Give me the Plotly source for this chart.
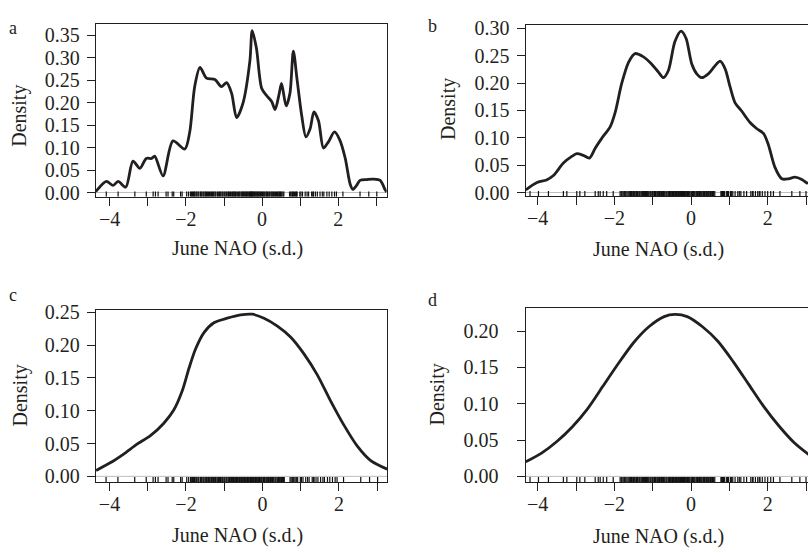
import plotly.graph_objects as go

# ---------------- data ----------------
# Panel a: narrow-bandwidth kernel density
a_x = [-4.37, -4.35, -4.09, -3.91, -3.78, -3.58, -3.39, -3.21, -3.04, -2.90, -2.82, -2.60, -2.34, -2.03,
       -1.90, -1.77, -1.63, -1.46, -1.24, -1.07, -0.93, -0.80, -0.67, -0.50, -0.32, -0.26, -0.15, -0.01,
       0.12, 0.25, 0.34, 0.45, 0.51, 0.63, 0.73, 0.82, 0.92, 1.04, 1.15, 1.26, 1.36, 1.48, 1.61, 1.74,
       1.90, 2.04, 2.18, 2.31, 2.38, 2.48, 2.57, 2.75, 2.92, 3.10, 3.23, 3.27]
a_y = [0.002, 0.004, 0.025, 0.016, 0.025, 0.012, 0.070, 0.054, 0.076, 0.076, 0.081, 0.037, 0.115, 0.097,
       0.135, 0.236, 0.279, 0.255, 0.252, 0.236, 0.245, 0.221, 0.167, 0.200, 0.294, 0.361, 0.322, 0.232,
       0.216, 0.203, 0.185, 0.221, 0.243, 0.193, 0.221, 0.315, 0.250, 0.171, 0.124, 0.142, 0.180, 0.160,
       0.099, 0.113, 0.135, 0.117, 0.077, 0.019, 0.007, 0.016, 0.027, 0.029, 0.030, 0.027, 0.006, 0.001]

# Panel b
b_x = [-4.31, -4.03, -3.77, -3.59, -3.33, -3.11, -2.98, -2.81, -2.65, -2.50, -2.33, -2.11, -1.98, -1.81,
       -1.63, -1.46, -1.24, -1.03, -0.85, -0.72, -0.59, -0.42, -0.26, -0.13, 0.02, 0.15, 0.28, 0.45,
       0.63, 0.76, 0.89, 1.02, 1.15, 1.32, 1.54, 1.71, 1.89, 2.02, 2.19, 2.37, 2.54, 2.71, 2.89, 3.05]
b_y = [0.005, 0.018, 0.023, 0.031, 0.054, 0.066, 0.071, 0.068, 0.063, 0.081, 0.099, 0.120, 0.146, 0.199,
       0.238, 0.254, 0.248, 0.235, 0.220, 0.210, 0.223, 0.276, 0.295, 0.282, 0.235, 0.217, 0.210, 0.217,
       0.232, 0.240, 0.226, 0.193, 0.164, 0.149, 0.128, 0.117, 0.108, 0.087, 0.046, 0.025, 0.025, 0.028,
       0.024, 0.016]

# Panel c
c_x = [-4.35, -3.97, -3.63, -3.28, -2.93, -2.58, -2.32, -2.10, -1.92, -1.75, -1.53, -1.27, -0.92, -0.57,
       -0.27, 0.04, 0.39, 0.74, 1.08, 1.43, 1.78, 2.13, 2.48, 2.83, 3.26]
c_y = [0.009, 0.021, 0.034, 0.049, 0.062, 0.081, 0.101, 0.130, 0.165, 0.194, 0.219, 0.234, 0.241, 0.246,
       0.247, 0.241, 0.229, 0.212, 0.187, 0.155, 0.115, 0.078, 0.046, 0.024, 0.011]

# Panel d
d_x = [-4.31, -3.90, -3.50, -3.10, -2.70, -2.30, -1.90, -1.50, -1.10, -0.70, -0.42, -0.10, 0.30, 0.70,
       1.10, 1.50, 1.90, 2.30, 2.70, 3.10]
d_y = [0.020, 0.032, 0.048, 0.068, 0.093, 0.124, 0.155, 0.184, 0.206, 0.220, 0.223, 0.220, 0.206, 0.186,
       0.158, 0.127, 0.096, 0.069, 0.046, 0.029]

# Rug (observations) for panels a and c
rug_ac = [-4.09, -3.78, -3.34, -3.04, -2.86, -2.80, -2.73, -2.52, -2.47, -2.36, -2.32, -2.14, -2.10, -1.98,
          -1.93, -1.88, -1.85, -1.83, -1.80, -1.78, -1.76, -1.73, -1.71, -1.68, -1.66, -1.62, -1.60, -1.58,
          -1.55, -1.53, -1.50, -1.48, -1.46, -1.43, -1.41, -1.38, -1.35, -1.33, -1.30, -1.28, -1.26, -1.23,
          -1.21, -1.17, -1.15, -1.12, -1.10, -1.08, -1.05, -1.03, -1.00, -0.98, -0.95, -0.93, -0.90, -0.88,
          -0.86, -0.83, -0.81, -0.78, -0.76, -0.74, -0.72, -0.70, -0.68, -0.65, -0.62, -0.60, -0.58, -0.55,
          -0.53, -0.51, -0.49, -0.47, -0.45, -0.43, -0.41, -0.39, -0.37, -0.35, -0.33, -0.31, -0.30, -0.28,
          -0.27, -0.25, -0.24, -0.22, -0.20, -0.18, -0.16, -0.14, -0.12, -0.10, -0.08, -0.06, -0.04, -0.02,
          0.01, 0.03, 0.05, 0.07, 0.10, 0.12, 0.14, 0.16, 0.19, 0.21, 0.24, 0.26, 0.28, 0.30, 0.33, 0.35,
          0.38, 0.40, 0.42, 0.44, 0.46, 0.48, 0.50, 0.52, 0.55, 0.57, 0.72, 0.75, 0.78, 0.80, 0.82, 0.85,
          0.88, 0.90, 0.92, 0.99, 1.02, 1.06, 1.13, 1.18, 1.22, 1.30, 1.33, 1.35, 1.40, 1.45, 1.52, 1.58,
          1.62, 1.70, 1.76, 1.83, 1.90, 1.95, 2.12, 2.57, 2.80, 3.01]
# Rug (observations) for panels b and d
rug_bd = [-4.20, -3.98, -3.72, -3.33, -3.24, -2.98, -2.90, -2.77, -2.50, -2.42, -2.37, -2.29, -2.20, -2.03,
          -1.85, -1.82, -1.80, -1.77, -1.74, -1.72, -1.70, -1.67, -1.64, -1.61, -1.58, -1.55, -1.52, -1.50,
          -1.47, -1.44, -1.42, -1.40, -1.38, -1.35, -1.33, -1.30, -1.28, -1.26, -1.24, -1.21, -1.19, -1.16,
          -1.14, -1.12, -1.10, -1.07, -1.05, -1.02, -1.00, -0.97, -0.95, -0.93, -0.91, -0.88, -0.86, -0.84,
          -0.82, -0.79, -0.77, -0.74, -0.72, -0.70, -0.68, -0.65, -0.63, -0.60, -0.58, -0.56, -0.54, -0.52,
          -0.50, -0.48, -0.46, -0.44, -0.42, -0.40, -0.38, -0.36, -0.34, -0.32, -0.31, -0.29, -0.28, -0.26,
          -0.25, -0.23, -0.22, -0.20, -0.19, -0.17, -0.15, -0.13, -0.11, -0.09, -0.07, -0.05, -0.03, 0.00,
          0.02, 0.04, 0.06, 0.08, 0.10, 0.13, 0.15, 0.17, 0.19, 0.22, 0.24, 0.26, 0.28, 0.31, 0.33, 0.35,
          0.37, 0.40, 0.42, 0.44, 0.46, 0.49, 0.51, 0.54, 0.56, 0.59, 0.62, 0.78, 0.80, 0.82, 0.85, 0.87,
          0.92, 0.95, 0.98, 1.03, 1.06, 1.09, 1.15, 1.22, 1.26, 1.30, 1.38, 1.45, 1.56, 1.60, 1.62, 1.68,
          1.74, 1.78, 1.80, 1.86, 1.93, 2.00, 2.08, 2.15, 2.32, 2.63, 2.84, 3.00]

panel_labels = ["a", "b", "c", "d"]
x_title = "June NAO (s.d.)"
y_title = "Density"
x_tickvals = [-4, -3, -2, -1, 0, 1, 2, 3]
x_ticktext = ["\u22124", "", "\u22122", "", "0", "", "2", ""]
y_tickvals_a = [0.00, 0.05, 0.10, 0.15, 0.20, 0.25, 0.30, 0.35]
y_tickvals_b = [0.00, 0.05, 0.10, 0.15, 0.20, 0.25, 0.30]
y_tickvals_c = [0.00, 0.05, 0.10, 0.15, 0.20, 0.25]
y_tickvals_d = [0.00, 0.05, 0.10, 0.15, 0.20]

# ---------------- layout helpers ----------------
W, H = 808, 553
FONT = "Liberation Serif, Times New Roman, serif"
INK = "#231f20"
TICKF = 20
TITLEF = 20


def px(x):
    return x / W


def py(y):
    return 1 - y / H


panels = [
    (a_x, a_y, rug_ac, y_tickvals_a, [-4.36, 3.27], [-0.0093, 0.3766], (96, 386.7), (15, 193.3), True),
    (b_x, b_y, rug_bd, y_tickvals_b, [-4.313, 3.052], [-0.0066, 0.3071], (525.7, 808), (16, 192.7), False),
    (c_x, c_y, rug_ac, y_tickvals_c, [-4.353, 3.264], [-0.0089, 0.2534], (96, 387.3), (310, 487.3), True),
    (d_x, d_y, rug_bd, y_tickvals_d, [-4.313, 3.052], [-0.0080, 0.2313], (525.7, 808), (308.3, 487.3), False),
]

fig = go.Figure()
layout = dict(
    width=W, height=H, margin=dict(l=0, r=0, t=0, b=0),
    paper_bgcolor="white", plot_bgcolor="white", showlegend=False,
    font=dict(family=FONT, color=INK, size=TICKF),
)
annotations = []

for i, (cx, cy, rug, yt, xr, yr, xd, yd, full) in enumerate(panels):
    n = "" if i == 0 else str(i + 1)
    xa, ya = "x" + n, "y" + n
    # zero line (gray)
    fig.add_trace(go.Scatter(x=[xr[0], xr[1]], y=[0, 0], mode="lines",
                             line=dict(color="#bdbdbd", width=1), xaxis=xa, yaxis=ya, hoverinfo="skip"))
    # rug segments
    rx, ry = [], []
    top = yr[0] + 0.03 * (yr[1] - yr[0])
    for v in rug:
        rx += [v, v, None]
        ry += [yr[0], top, None]
    fig.add_trace(go.Scatter(x=rx, y=ry, mode="lines", line=dict(color="#111111", width=1.2),
                             xaxis=xa, yaxis=ya, hoverinfo="skip"))
    # density curve
    fig.add_trace(go.Scatter(x=cx, y=cy, mode="lines",
                             line=dict(color=INK, width=2.8, shape="spline", smoothing=0.8),
                             xaxis=xa, yaxis=ya))

    layout["xaxis" + n] = dict(
        domain=[px(xd[0]), min(1.0, px(xd[1]))], range=xr, anchor=ya,
        tickvals=x_tickvals, ticktext=x_ticktext, ticks="outside", ticklen=8, tickwidth=1.3,
        tickcolor=INK, showline=True, linecolor=INK, linewidth=1.3, mirror=True,
        showgrid=False, zeroline=False, tickfont=dict(size=TICKF, family=FONT, color=INK),
        ticklabelstandoff=-4,
    )
    layout["yaxis" + n] = dict(
        domain=[py(yd[1]), py(yd[0])], range=yr, anchor=xa,
        tickvals=yt, tickformat=".2f", ticks="outside", ticklen=8, tickwidth=1.3,
        tickcolor=INK, showline=True, linecolor=INK, linewidth=1.3, mirror=full,
        showgrid=False, zeroline=False, tickfont=dict(size=TICKF, family=FONT, color=INK),
        ticklabelstandoff=3 if i != 3 else 14,
    )

# panel letters
letter_pos = [(13, 20), (432, 18), (13, 295), (432, 300)]
for lab, (lx, ly) in zip(panel_labels, letter_pos):
    annotations.append(dict(text=lab, x=px(lx), y=py(ly), xref="paper", yref="paper",
                            showarrow=False, xanchor="center", yanchor="middle",
                            font=dict(size=18, family=FONT, color=INK)))
# x titles
for (tx, ty) in [(237, 247), (658, 248), (237, 542), (658, 543)]:
    annotations.append(dict(text=x_title, x=px(tx), y=py(ty), xref="paper", yref="paper",
                            showarrow=False, xanchor="center", yanchor="middle",
                            font=dict(size=TITLEF, family=FONT, color=INK)))
# y titles
for (tx, ty) in [(20, 110), (448, 103), (20, 398), (438, 397)]:
    annotations.append(dict(text=y_title, x=px(tx), y=py(ty), xref="paper", yref="paper",
                            showarrow=False, xanchor="center", yanchor="middle", textangle=-90,
                            font=dict(size=TITLEF, family=FONT, color=INK)))

layout["annotations"] = annotations
fig.update_layout(**layout)
fig.write_html("out.html")
